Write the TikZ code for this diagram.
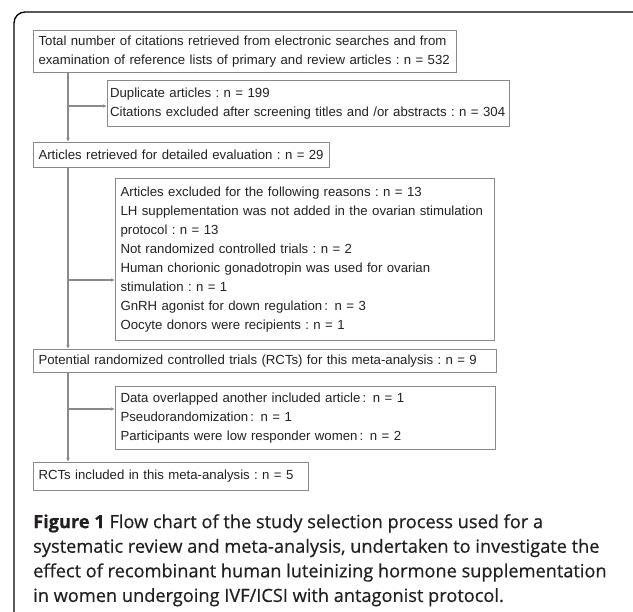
\documentclass[tikz,border=0pt]{standalone}
\usepackage{fontspec}
\usepackage{tikz}
\usetikzlibrary{arrows.meta}
\setmainfont{Liberation Sans}
\newfontfamily\capfont[FakeBold=0.5]{Open Sans}
\definecolor{boxgray}{HTML}{8A8A8A}
\definecolor{txtgray}{HTML}{222222}
\definecolor{capblack}{HTML}{231F20}
\frenchspacing

\tikzset{
  stage/.style={draw=boxgray, line width=1.1pt, anchor=north west, align=left,
    inner xsep=5pt, inner ysep=2pt, text=txtgray,
    font=\fontsize{13.2}{19}\selectfont},
  flow/.style={draw=boxgray, line width=1.1pt, -{Latex[length=4pt,width=3.5pt]}},
  link/.style={draw=boxgray, line width=1.1pt}
}

\begin{document}
\begin{tikzpicture}[x=1pt,y=-1pt]
  \clip (0,0) rectangle (633,612);
  % outer frame
  \draw [line width=1.3pt, rounded corners=11pt] (14,640) -- (14,12) -- (650,12) -- (650,640);
  % boxes
  \node [stage, text width=413pt, minimum height=42pt] (total) at (33,30)
    {Total number of citations retrieved from electronic searches and from\\
     examination of reference lists of primary and review articles : n = 532};
  \node [stage, inner xsep=2.5pt, text width=397pt, minimum height=46pt] (dup) at (107,80)
    {Duplicate articles : n = 199\\
     Citations excluded after screening titles and /or abstracts : n = 304};
  \node [stage, text width=286pt, minimum height=25pt] (detail) at (33,142)
    {Articles retrieved for detailed evaluation : n = 29};
  \node [stage, text width=369pt, minimum height=162pt] (reasons) at (115,178)
    {Articles excluded for the following reasons : n = 13\\
     LH supplementation was not added in the ovarian stimulation\\
     protocol : n = 13\\
     Not randomized controlled trials : n = 2\\
     Human chorionic gonadotropin was used for ovarian\\
     stimulation : n = 1\\
     GnRH agonist for down regulation\,:\enspace n = 3\\
     Oocyte donors were recipients : n = 1};
  \node [stage, text width=453pt, minimum height=23pt] (potential) at (33,349)
    {Potential randomized controlled trials (RCTs) for this meta-analysis : n = 9};
  \node [stage, text width=370pt, minimum height=63pt] (overlap) at (115,386)
    {Data overlapped another included article\,:\enspace n = 1\\
     Pseudorandomization\,:\enspace n = 1\\
     Participants were low responder women\,:\enspace n = 2};
  \node [stage, text width=265pt, minimum height=28pt] (included) at (33,462)
    {RCTs included in this meta-analysis : n = 5};
  % spine and branches
  \coordinate (spine) at (68,0);
  \coordinate (j1) at (68,106);
  \coordinate (j2) at (68,280);
  \coordinate (j3) at (68,409);
  \draw [flow] (total.south -| spine) -- (detail.north -| spine);
  \draw [flow] (detail.south -| spine) -- (potential.north -| spine);
  \draw [flow] (potential.south -| spine) -- (included.north -| spine);
  \draw [flow] (j1) -- (j1 -| dup.west);
  \draw [flow] (j2) -- (j2 -| reasons.west);
  \draw [flow] (j3) -- (j3 -| overlap.west);
  % caption
  \node [anchor=north west, align=left, inner sep=0pt, text=capblack,
    font=\capfont\fontsize{18.2}{24.6}\selectfont] (caption) at (33,514)
    {\textbf{Figure 1} Flow chart of the study selection process used for a\\
     systematic review and meta-analysis, undertaken to investigate the\\
     effect of recombinant human luteinizing hormone supplementation\\
     in women undergoing IVF/ICSI with antagonist protocol.};
\end{tikzpicture}
\end{document}
